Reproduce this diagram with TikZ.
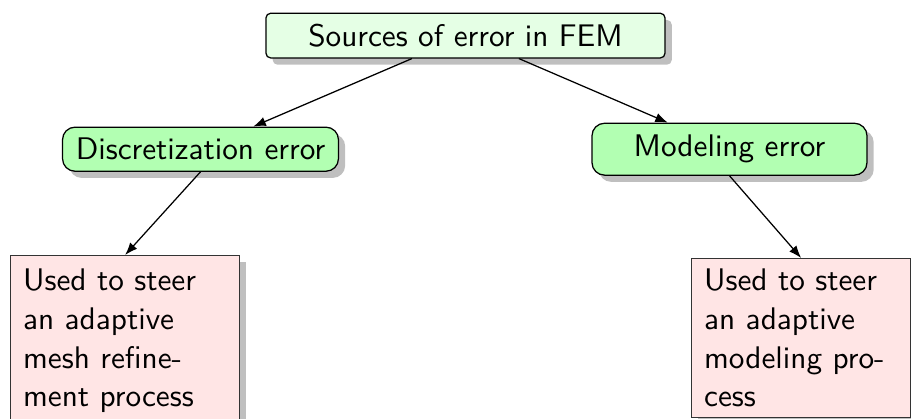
\documentclass[tikz,border=0pt]{standalone}
\usepackage{fontspec}
\usetikzlibrary{shadows,arrows.meta}
\begin{document}
\begin{tikzpicture}[x=0.32pt,y=-0.32pt,
  every node/.style={font=\sffamily},
  rootbox/.style={draw=black, fill=green!10, rounded corners=1.5pt, drop shadow,
    minimum width=127.7pt, minimum height=14.3pt, inner sep=0pt},
  errbox/.style={draw=black, fill=green!30, rounded corners=4pt, drop shadow,
    inner sep=0pt},
  usebox/.style={draw=black!80, fill=red!10, drop shadow, anchor=north west,
    align=left, inner xsep=4pt, inner ysep=2pt,
    font=\sffamily\fontsize{10}{12.4}\selectfont},
  conn/.style={-{Latex[length=4pt,width=3pt]}, black}
]
\useasboundingbox (0,0) rectangle (911,419);
\clip (0,0) rectangle (911,419);
\node[rootbox] (root) at (465.5,35.6) {Sources of error in FEM};
\node[errbox, minimum width=88.3pt, minimum height=14.1pt] (disc) at (200.5,149.2) {Discretization error};
\node[errbox, minimum width=88pt, minimum height=16.6pt] (model) at (729.5,149.2) {Modeling error};
\node[usebox, text width=65.3pt, minimum width=73.3pt, minimum height=54.6pt] (lbox) at (10,255)
  {Used to steer\\an adaptive\\mesh refine-\\ment process};
\node[usebox, text width=62.1pt, minimum width=70.1pt, minimum height=50.9pt] (rbox) at (691,258)
  {Used to steer\\an adaptive\\modeling pro-\\cess};
\draw[conn] (root) -- (disc);
\draw[conn] (root) -- (model);
\draw[conn] (disc.south) -- (lbox.north);
\draw[conn] (model.south) -- (rbox.north);
\end{tikzpicture}
\end{document}
